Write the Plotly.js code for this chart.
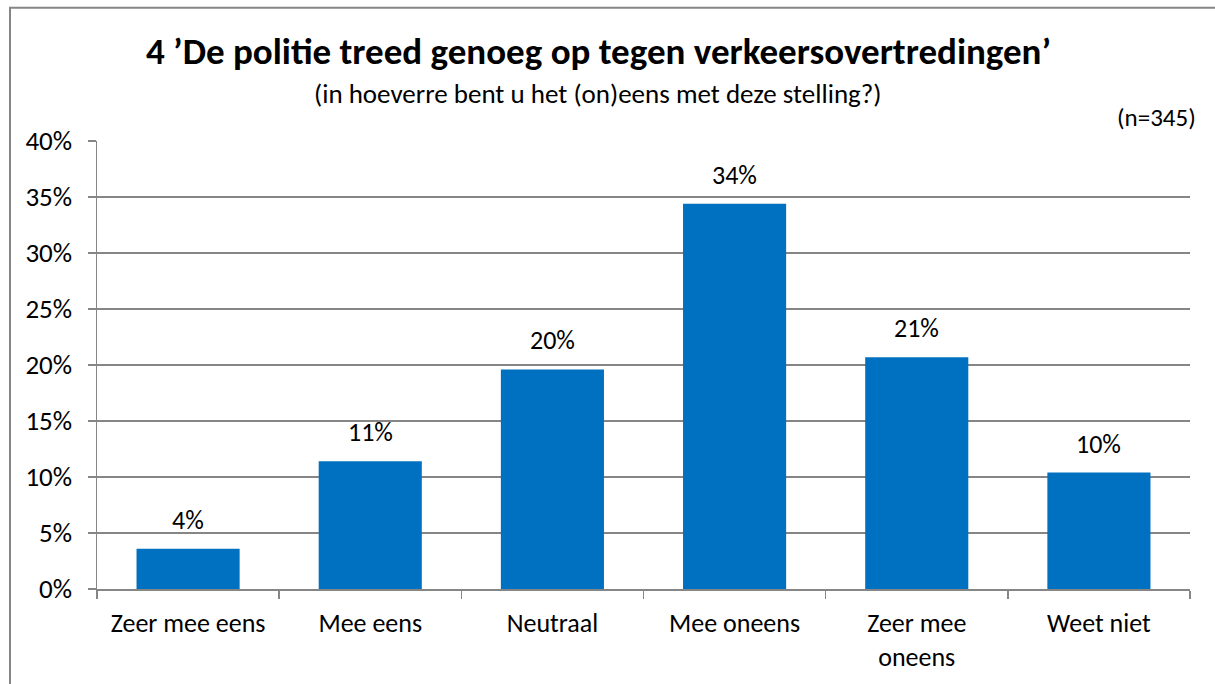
<!DOCTYPE html>
<html>
<head>
<meta charset="utf-8">
<script src="https://cdn.plot.ly/plotly-3.0.1.min.js"></script>
<style>
html,body{margin:0;padding:0;background:#fff;}
#chart{width:1215px;height:684px;}
</style>
</head>
<body>
<div id="chart"></div>
<script>
const categories = ["Zeer mee eens", "Mee eens", "Neutraal", "Mee oneens", "Zeer mee<br>oneens", "Weet niet"];
const values = [3.6, 11.4, 19.6, 34.4, 20.7, 10.4];
const valueLabels = ["4%", "11%", "20%", "34%", "21%", "10%"];
const yTickValues = [0, 5, 10, 15, 20, 25, 30, 35, 40];
const yTickLabels = ["0%", "5%", "10%", "15%", "20%", "25%", "30%", "35%", "40%"];

const FONT = "Carlito, Calibri, Lato, 'Liberation Sans', sans-serif";
const FS = 26;

const trace = {
  type: "bar",
  x: categories,
  y: values,
  marker: {color: "#0070C0", line: {width: 0}},
  hoverinfo: "none"
};

const annotations = categories.map((c, i) => ({
  x: c, y: values[i], xref: "x", yref: "y",
  text: valueLabels[i], showarrow: false,
  yanchor: "bottom", yshift: 11,
  font: {family: FONT, size: FS, color: "#000"}
}));

annotations.push({
  xref: "paper", yref: "paper", x: 0.4585, y: 1.199, xanchor: "center", yanchor: "middle",
  text: "<b>4 ’De politie treed genoeg op tegen verkeersovertredingen’</b>",
  showarrow: false, font: {family: FONT, size: 37, color: "#000"}
});
annotations.push({
  xref: "paper", yref: "paper", x: 0.4585, y: 1.107, xanchor: "center", yanchor: "middle",
  text: "(in hoeverre bent u het (on)eens met deze stelling?)",
  showarrow: false, font: {family: FONT, size: 27, color: "#000"}
});
annotations.push({
  xref: "paper", yref: "paper", x: 1.007, y: 1.053, xanchor: "right", yanchor: "middle",
  text: "(n=345)",
  showarrow: false, font: {family: FONT, size: 25, color: "#000"}
});

const layout = {
  width: 1215, height: 684,
  margin: {l: 97, r: 25, t: 141, b: 95, pad: 0},
  paper_bgcolor: "#fff", plot_bgcolor: "#fff",
  showlegend: false,
  bargap: 0.434,
  font: {family: FONT, size: FS, color: "#000"},
  xaxis: {
    type: "category",
    tickson: "boundaries",
    ticks: "outside", ticklen: 8, tickwidth: 1.5, tickcolor: "#868686",
    showline: true, linecolor: "#868686", linewidth: 1.5,
    showgrid: false, zeroline: false,
    ticklabelstandoff: 10,
    tickfont: {family: FONT, size: FS, color: "#000"},
    fixedrange: true
  },
  yaxis: {
    range: [0, 40],
    tickvals: yTickValues, ticktext: yTickLabels,
    ticks: "outside", ticklen: 8, tickwidth: 1.5, tickcolor: "#868686",
    showline: true, linecolor: "#868686", linewidth: 1.5,
    showgrid: true, gridcolor: "#868686", gridwidth: 1.5,
    zeroline: false,
    ticklabelstandoff: 10,
    tickfont: {family: FONT, size: 27, color: "#000"},
    fixedrange: true
  },
  annotations: annotations,
  shapes: [{
    type: "rect", xref: "paper", yref: "paper",
    x0: -0.0796, x1: 1.2, y0: -0.5, y1: 1.2975,
    line: {color: "#868686", width: 2}, fillcolor: "rgba(0,0,0,0)", layer: "below"
  }]
};

Plotly.newPlot("chart", [trace], layout, {displayModeBar: false, staticPlot: true});
</script>
</body>
</html>
